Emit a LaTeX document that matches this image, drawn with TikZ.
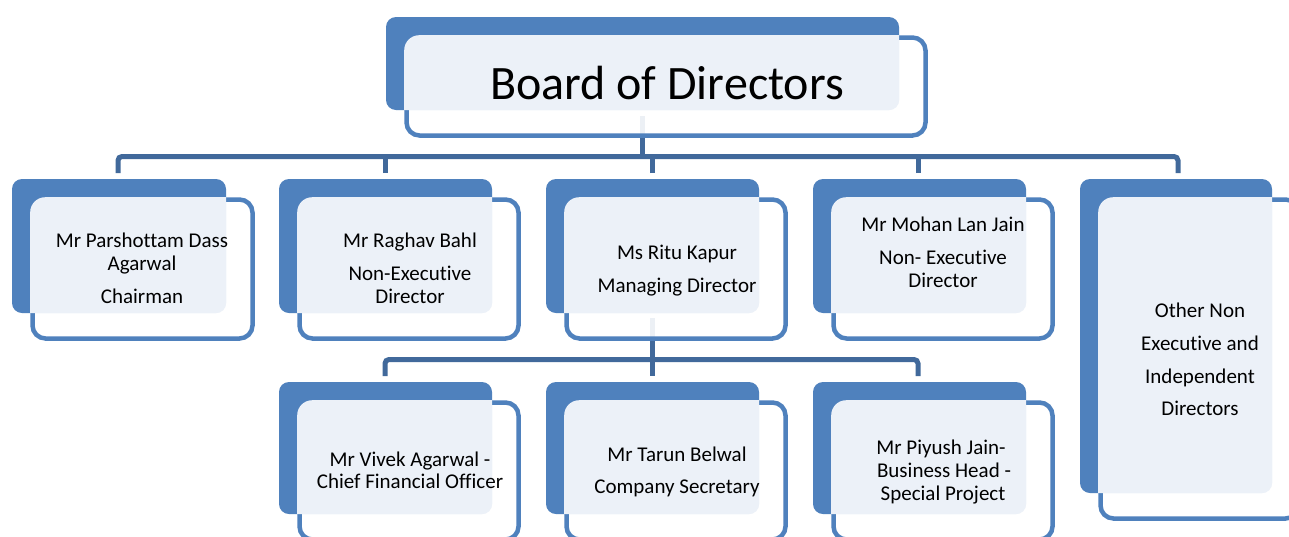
\documentclass[tikz,border=0pt]{standalone}
\usepackage{fontspec}
\setmainfont{Carlito}[Ligatures={NoCommon}]
\usetikzlibrary{calc}
\definecolor{bkblue}{HTML}{4F81BD}
\definecolor{connc}{HTML}{41699B}
\definecolor{lite}{HTML}{ECF1F8}
\tikzset{
  backbox/.style={draw=none, fill=bkblue, rounded corners=10pt, inner sep=0pt, outer sep=0pt},
  frontbox/.style={draw=bkblue, line width=4.5pt, fill=white, fill opacity=0.9, draw opacity=1, rounded corners=13pt, inner sep=0pt, outer sep=0pt},
  connline/.style={draw=connc, line width=5pt, rounded corners=4pt},
  lbl/.style={anchor=base, font=\fontsize{21}{25}\selectfont, inner sep=0pt, text=black},
  biglbl/.style={anchor=base, font=\fontsize{48}{56}\selectfont, inner sep=0pt, text=black},
}
% #1 name, #2 L, #3 T, #4 R, #5 B  (pixel coordinates, y downwards)
\newcommand\obox[5]{%
  \node[backbox, minimum width={(#4-#2)*1pt}, minimum height={(#5-#3)*1pt}] (b#1) at ({(#2+#4)/2},{(#3+#5)/2}) {};
  \node[frontbox, minimum width={(#4-#2+6)*1pt}, minimum height={(#5-#3+5)*1pt}] (f#1) at ({(#2+#4)/2+23.5},{(#3+#5)/2+23}) {};
  \begin{scope}
    \clip[rounded corners=10pt] (b#1.south west) rectangle (b#1.north east);
    \fill[lite, rounded corners=15pt] ($(f#1.south west)+(-2.3pt,-2.3pt)$) rectangle ($(f#1.north east)+(2.3pt,2.3pt)$);
  \end{scope}%
}
\begin{document}
\begin{tikzpicture}[x=1pt, y=-1pt]
\useasboundingbox (0,0) rectangle (1289,536);
\clip (0,0) rectangle (1289,536);
\fill[white] (0,0) rectangle (1289,536);

% connector coordinates
\coordinate (bdfoot) at (642,116);
\coordinate (bdbar) at (642,156.5);
\coordinate (k1) at (118,173);
\coordinate (k2) at (385,173);
\coordinate (k3) at (652,173);
\coordinate (k4) at (918,173);
\coordinate (k5) at (1178,173);
\coordinate (ritufoot) at (652,318);
\coordinate (ritubar) at (652,359.5);
\coordinate (m1) at (385,376);
\coordinate (m2) at (652,376);
\coordinate (m3) at (918,376);

% connectors
\draw[connline] (bdfoot) -- (bdbar);
\draw[connline] (k1) |- (bdbar) -| (k5);
\draw[connline] (k2) -- (k2 |- bdbar);
\draw[connline] (k3) -- (k3 |- bdbar);
\draw[connline] (k4) -- (k4 |- bdbar);
\draw[connline] (ritufoot) -- (m2);
\draw[connline] (m1) |- (ritubar) -| (m3);

% boxes
\obox{bd}{386}{17}{899}{110}
\obox{p}{12}{179}{226}{313}
\obox{r}{279}{179}{492}{313}
\obox{k}{546}{179}{759}{313}
\obox{j}{813}{179}{1026}{313}
\obox{o}{1080}{179}{1272}{493}
\obox{v}{279}{382}{492}{514}
\obox{t}{546}{382}{759}{514}
\obox{s}{813}{382}{1026}{514}

% texts
\node[biglbl] (tbd) at (667,99) {Board of Directors};

\node[lbl] (tp1) at (142,247) {Mr Parshottam Dass};
\node[lbl] (tp2) at (142,270) {Agarwal};
\node[lbl] (tp3) at (142,303) {Chairman};

\node[lbl] (tr1) at (410,247) {Mr Raghav Bahl};
\node[lbl] (tr2) at (410,280) {Non-Executive};
\node[lbl] (tr3) at (410,303) {Director};

\node[lbl] (tk1) at (677,259) {Ms Ritu Kapur};
\node[lbl] (tk2) at (677,292) {Managing Director};

\node[lbl] (tj1) at (943,231) {Mr Mohan Lan Jain};
\node[lbl] (tj2) at (943,264) {Non- Executive};
\node[lbl] (tj3) at (943,287) {Director};

\node[lbl] (to1) at (1200,317) {Other Non};
\node[lbl] (to2) at (1200,350) {Executive and};
\node[lbl] (to3) at (1200,383) {Independent};
\node[lbl] (to4) at (1200,415) {Directors};

\node[lbl] (tv1) at (410,466) {Mr Vivek Agarwal -};
\node[lbl] (tv2) at (410,488) {Chief Financial Officer};

\node[lbl] (tt1) at (677,461) {Mr Tarun Belwal};
\node[lbl] (tt2) at (677,493) {Company Secretary};

\node[lbl] (ts1) at (941,454) {Mr Piyush Jain-};
\node[lbl] (ts2) at (944,477) {Business Head -};
\node[lbl] (ts3) at (943,500) {Special Project};
\end{tikzpicture}
\end{document}
